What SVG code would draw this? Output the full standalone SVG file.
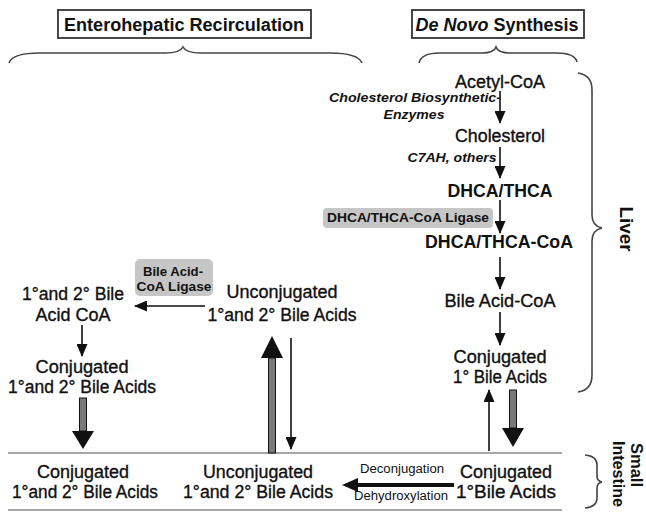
<svg xmlns="http://www.w3.org/2000/svg" width="646" height="512" viewBox="0 0 646 512">
<style>
text{font-family:"Liberation Sans",Arial,sans-serif;fill:#111}
.n{font-size:17.5px;stroke:#111;stroke-width:0.35;text-anchor:middle}
.b{font-size:17.5px;font-weight:bold;text-anchor:middle}
.h{font-size:18px;font-weight:bold;text-anchor:middle}
.v{font-size:16px;font-weight:bold;text-anchor:start}
.e{font-size:13.5px;font-weight:bold;font-style:italic;text-anchor:middle}
.g{font-size:13.5px;font-weight:bold;text-anchor:middle}
.s{font-size:12.5px;text-anchor:middle}
.hdr{fill:#fff;stroke:#333;stroke-width:1.8}
.gbox{fill:#c6c6c6;stroke:none}
.br{fill:none;stroke:#444;stroke-width:1.6}
.sep{stroke:#888;stroke-width:1.6}
.thin{stroke:#111;stroke-width:1.6;fill:none;marker-end:url(#ah)}
.shaft{fill:#7a7a7a;stroke:#111;stroke-width:1}
.head{fill:#111}
</style>
<defs>
<marker id="ah" viewBox="0 0 13 11" refX="12" refY="5.5" markerWidth="13" markerHeight="11" markerUnits="userSpaceOnUse" orient="auto">
<path d="M0,0 L13,5.5 L0,11 z" fill="#111"/>
</marker>
</defs>
<rect width="646" height="512" fill="#fff"/>

<g id="header-enterohepatic">
<rect class="hdr" x="58" y="10" width="253" height="28"/>
<text class="h" x="184" y="31" textLength="240" lengthAdjust="spacingAndGlyphs">Enterohepatic Recirculation</text>
<path class="br" d="M9,63 Q12,53 40,53 L165,53 Q180,53 183,47 Q186,53 201,53 L330,53 Q358,53 362,63"/>
</g>
<g id="header-denovo">
<rect class="hdr" x="412" y="10" width="172" height="28"/>
<text class="h" x="497" y="31" textLength="163" lengthAdjust="spacingAndGlyphs"><tspan font-style="italic">De Novo</tspan> Synthesis</text>
<path class="br" d="M419,63 Q421,53 440,53 L482,53 Q494,53 496,47 Q498,53 510,53 L556,53 Q575,53 577,62"/>
</g>

<g id="liver">
<path class="br" d="M578,73 Q592,75 592,90 L592,215 Q592,226 602,228 Q592,230 592,241 L592,375 Q592,390 578,392"/>
<text class="h" transform="translate(620,229) rotate(90)" textLength="45" lengthAdjust="spacingAndGlyphs">Liver</text>
</g>
<g id="small-intestine">
<path class="br" d="M585,455 Q597,456 597,465 L597,476 Q597,481 602,482 Q597,483 597,488 L597,498 Q597,507 585,508"/>
<text class="v" transform="translate(631,443) rotate(90)" textLength="44" lengthAdjust="spacingAndGlyphs">Small</text>
<text class="v" transform="translate(613,441) rotate(90)" textLength="66" lengthAdjust="spacingAndGlyphs">Intestine</text>
</g>

<g id="acetyl-coa"><text class="n" x="500" y="88" textLength="90" lengthAdjust="spacingAndGlyphs">Acetyl-CoA</text></g>
<g id="enzymes-label">
<text class="e" x="415" y="102" textLength="172" lengthAdjust="spacingAndGlyphs">Cholesterol Biosynthetic-</text>
<text class="e" x="414" y="119" textLength="61" lengthAdjust="spacingAndGlyphs">Enzymes</text>
</g>
<g id="cholesterol"><text class="n" x="500" y="142" textLength="90" lengthAdjust="spacingAndGlyphs">Cholesterol</text></g>
<g id="c7ah-label"><text class="e" x="452" y="162" textLength="89" lengthAdjust="spacingAndGlyphs">C7AH, others</text></g>
<g id="dhca-thca"><text class="b" x="500" y="197" textLength="105" lengthAdjust="spacingAndGlyphs">DHCA/THCA</text></g>
<g id="dhca-ligase">
<rect class="gbox" x="323" y="208" width="170" height="20" rx="4"/>
<text class="g" x="408" y="222" textLength="162" lengthAdjust="spacingAndGlyphs">DHCA/THCA-CoA Ligase</text>
</g>
<g id="dhca-thca-coa"><text class="b" x="499" y="248" textLength="148" lengthAdjust="spacingAndGlyphs">DHCA/THCA-CoA</text></g>
<g id="bile-acid-coa"><text class="n" x="500" y="307" textLength="111" lengthAdjust="spacingAndGlyphs">Bile Acid-CoA</text></g>
<g id="conj-primary-liver">
<text class="n" x="500" y="363" textLength="93" lengthAdjust="spacingAndGlyphs">Conjugated</text>
<text class="n" x="500" y="383" textLength="94" lengthAdjust="spacingAndGlyphs">1° Bile Acids</text>
</g>

<g id="ba-coa-ligase">
<rect class="gbox" x="135" y="259" width="78" height="37" rx="5"/>
<text class="g" x="173" y="276" textLength="60" lengthAdjust="spacingAndGlyphs">Bile Acid-</text>
<text class="g" x="174" y="291" textLength="75" lengthAdjust="spacingAndGlyphs">CoA Ligase</text>
</g>
<g id="ba-coa">
<text class="n" x="73" y="300" textLength="102" lengthAdjust="spacingAndGlyphs">1°and  2° Bile</text>
<text class="n" x="73" y="321" textLength="75" lengthAdjust="spacingAndGlyphs">Acid CoA</text>
</g>
<g id="unconj-liver">
<text class="n" x="282" y="298" textLength="111" lengthAdjust="spacingAndGlyphs">Unconjugated</text>
<text class="n" x="282" y="321" textLength="149" lengthAdjust="spacingAndGlyphs">1°and 2° Bile Acids</text>
</g>
<g id="conj-liver">
<text class="n" x="82" y="373" textLength="93" lengthAdjust="spacingAndGlyphs">Conjugated</text>
<text class="n" x="82" y="393" textLength="148" lengthAdjust="spacingAndGlyphs">1°and 2° Bile Acids</text>
</g>

<g id="intestine-lines">
<line class="sep" x1="8" y1="453" x2="562" y2="453"/>
<line class="sep" x1="8" y1="510" x2="562" y2="510"/>
</g>
<g id="conj-intestine">
<text class="n" x="83" y="478" textLength="92" lengthAdjust="spacingAndGlyphs">Conjugated</text>
<text class="n" x="85" y="498" textLength="146" lengthAdjust="spacingAndGlyphs">1°and 2° Bile Acids</text>
</g>
<g id="unconj-intestine">
<text class="n" x="258" y="478" textLength="110" lengthAdjust="spacingAndGlyphs">Unconjugated</text>
<text class="n" x="258" y="498" textLength="150" lengthAdjust="spacingAndGlyphs">1°and 2° Bile Acids</text>
</g>
<g id="conj-primary-intestine">
<text class="n" x="506" y="478" textLength="92" lengthAdjust="spacingAndGlyphs">Conjugated</text>
<text class="n" x="506" y="498" textLength="100" lengthAdjust="spacingAndGlyphs">1°Bile Acids</text>
</g>
<g id="deconj-label">
<text class="s" x="402" y="473" textLength="84" lengthAdjust="spacingAndGlyphs">Deconjugation</text>
<text class="s" x="401" y="500" textLength="94" lengthAdjust="spacingAndGlyphs">Dehydroxylation</text>
</g>

<g id="connectors">
<line class="thin" x1="500" y1="91" x2="500" y2="123"/>
<line class="thin" x1="500" y1="147" x2="500" y2="178"/>
<line class="thin" x1="500" y1="200" x2="500" y2="233"/>
<line class="thin" x1="500" y1="257" x2="500" y2="289"/>
<line class="thin" x1="500" y1="312" x2="500" y2="345"/>
<line class="thin" x1="205" y1="306" x2="135" y2="306"/>
<line class="thin" x1="82" y1="325" x2="82" y2="356"/>
<line class="thin" x1="291" y1="338" x2="291" y2="449"/>
<line class="thin" x1="489" y1="451" x2="489" y2="390"/>
<g id="thick-left-down">
<rect class="shaft" x="79.5" y="398" width="7" height="33"/>
<polygon class="head" points="72,431 94,431 83,449"/>
</g>
<g id="thick-up">
<rect class="shaft" x="268.5" y="358" width="7" height="95"/>
<polygon class="head" points="272,336 261,358 283,358"/>
</g>
<g id="thick-right-down">
<rect class="shaft" x="509.5" y="390" width="7" height="38"/>
<polygon class="head" points="502,428 524,428 513,447"/>
</g>
<g id="deconj-arrow">
<line x1="454" y1="485" x2="356" y2="485" stroke="#111" stroke-width="4"/>
<polygon class="head" points="342,485 358,478 358,492"/>
</g>
</g>
</svg>
